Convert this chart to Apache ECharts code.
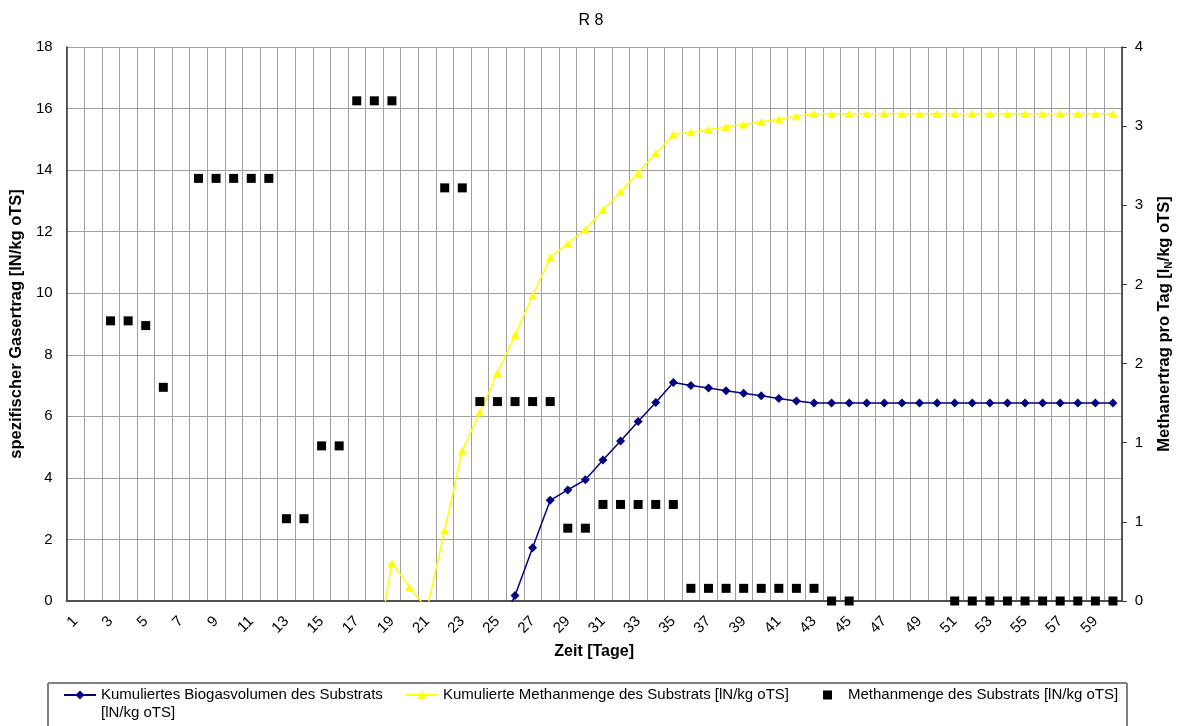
<!DOCTYPE html>
<html>
<head>
<meta charset="utf-8">
<script src="https://cdn.jsdelivr.net/npm/echarts@6/dist/echarts.min.js"></script>
<style>
html,body{margin:0;padding:0;background:#fff;}
#chart{width:1182px;height:726px;}
</style>
</head>
<body>
<div id="chart"></div>
<script>
// Categories: days
const days = ['1','2','3','4','5','6','7','8','9','10','11','12','13','14','15','16','17','18','19','20',
  '21','22','23','24','25','26','27','28','29','30','31','32','33','34','35','36','37','38','39','40',
  '41','42','43','44','45','46','47','48','49','50','51','52','53','54','55','56','57','58','59','60'];

// Kumuliertes Biogasvolumen des Substrats [lN/kg oTS] (left axis)
const biogasCum = [null,null,null,null,null,null,null,null,null,null,
  null,null,null,null,null,null,null,null,null,null,
  null,null,null,null,-1.0,0.18,1.73,3.27,3.61,3.94,
  4.58,5.20,5.83,6.45,7.10,7.00,6.92,6.83,6.75,6.67,
  6.58,6.50,6.43,6.43,6.43,6.43,6.43,6.43,6.43,6.43,
  6.43,6.43,6.43,6.43,6.43,6.43,6.43,6.43,6.43,6.43];

// Kumulierte Methanmenge des Substrats [lN/kg oTS] (left axis)
const methaneCum = [null,null,null,null,null,null,null,null,null,null,
  null,null,null,null,null,null,null,-2.1,1.23,0.45,
  -0.25,2.29,4.88,6.13,7.40,8.64,9.91,11.16,11.61,12.07,
  12.70,13.29,13.91,14.55,15.16,15.23,15.31,15.40,15.48,15.57,
  15.65,15.75,15.83,15.83,15.83,15.83,15.83,15.83,15.83,15.83,
  15.83,15.83,15.83,15.83,15.83,15.83,15.83,15.83,15.83,15.83];

// Methanmenge des Substrats pro Tag [lN/kg oTS] (right axis)
const methaneDaily = [null,null,1.77,1.77,1.74,1.35,null,2.67,2.67,2.67,
  2.67,2.67,0.52,0.52,0.98,0.98,3.16,3.16,3.16,null,
  null,2.61,2.61,1.26,1.26,1.26,1.26,1.26,0.46,0.46,
  0.61,0.61,0.61,0.61,0.61,0.08,0.08,0.08,0.08,0.08,
  0.08,0.08,0.08,0,0,null,null,null,null,null,
  0,0,0,0,0,0,0,0,0,0];

const seriesNames = [
  'Kumuliertes Biogasvolumen des Substrats [lN/kg oTS]',
  'Kumulierte Methanmenge des Substrats [lN/kg oTS]',
  'Methanmenge des Substrats [lN/kg oTS]'
];

const FONT = 'Liberation Sans, Arial, Helvetica, sans-serif';
const chart = echarts.init(document.getElementById('chart'), null, {renderer: 'canvas'});

chart.setOption({
  animation: false,
  backgroundColor: '#ffffff',
  textStyle: {fontFamily: FONT, color: '#000'},
  title: {
    text: 'R 8', left: 'center', top: 8,
    textStyle: {fontFamily: FONT, fontSize: 16, fontWeight: 'normal', color: '#000'}
  },
  grid: {left: 65, right: 54, top: 47, bottom: 125, containLabel: false},
  legend: [
    {
      data: [seriesNames[0]],
      left: 63, top: 668, padding: 0,
      itemWidth: 32, itemHeight: 11,
      formatter: function () { return '\nKumuliertes Biogasvolumen des Substrats\n[lN/kg oTS]'; },
      textStyle: {fontFamily: FONT, fontSize: 15, color: '#000', lineHeight: 18}
    },
    {
      data: [seriesNames[1]],
      left: 405, top: 686, padding: 0,
      itemWidth: 32, itemHeight: 11,
      textStyle: {fontFamily: FONT, fontSize: 15, color: '#000', lineHeight: 18}
    },
    {
      data: [{name: seriesNames[2], icon: 'rect'}],
      left: 823, top: 686, padding: 0,
      itemWidth: 9, itemHeight: 9,
      textStyle: {fontFamily: FONT, fontSize: 15, color: '#000', lineHeight: 18, padding: [0, 0, 0, 11]}
    }
  ],
  graphic: [
    {type: 'rect', z: -1, silent: true,
     shape: {x: 48, y: 683, width: 1079, height: 80},
     style: {fill: 'none', stroke: '#000', lineWidth: 1}},
    {type: 'line', z: 0, silent: true,
     shape: {x1: 48, y1: 683, x2: 1127, y2: 683},
     style: {stroke: '#808080', lineWidth: 2}}
  ],
  xAxis: {
    type: 'category',
    data: days,
    boundaryGap: true,
    name: 'Zeit [Tage]',
    nameLocation: 'middle',
    nameGap: 43,
    nameTextStyle: {fontFamily: FONT, fontSize: 16, fontWeight: 'bold', color: '#000'},
    axisLine: {show: true, lineStyle: {color: '#505050', width: 2}},
    axisTick: {show: false},
    axisLabel: {interval: 1, rotate: 45, margin: 18, fontSize: 15, color: '#000', fontFamily: FONT},
    splitLine: {show: true, interval: 0, lineStyle: {color: '#a0a0a0', width: 1}}
  },
  yAxis: [
    {
      type: 'value', min: 0, max: 18, interval: 2, position: 'left',
      name: 'spezifischer Gasertrag [lN/kg oTS]',
      nameLocation: 'middle', nameRotate: 90, nameGap: 38,
      nameTextStyle: {fontFamily: FONT, fontSize: 16.5, fontWeight: 'bold', color: '#000'},
      axisLine: {show: true, lineStyle: {color: '#303030', width: 1.5}},
      axisTick: {show: false},
      axisLabel: {margin: 14, fontSize: 15, color: '#000', fontFamily: FONT},
      splitLine: {show: true, lineStyle: {color: '#a0a0a0', width: 1}}
    },
    {
      type: 'value', min: 0, max: 3.5, interval: 0.5, position: 'right',
      name: 'Methanertrag pro Tag [l{sub|N}/kg oTS]',
      nameLocation: 'middle', nameRotate: 90, nameGap: 31,
      nameTextStyle: {
        fontFamily: FONT, fontSize: 16.5, fontWeight: 'bold', color: '#000', lineHeight: 20,
        rich: {sub: {fontFamily: FONT, fontSize: 10, fontWeight: 'bold', color: '#000', lineHeight: 20, verticalAlign: 'bottom'}}
      },
      axisLine: {show: true, lineStyle: {color: '#303030', width: 1.5}},
      axisTick: {show: true, inside: false, length: 5, lineStyle: {color: '#303030', width: 1}},
      axisLabel: {margin: 13, fontSize: 15, color: '#000', fontFamily: FONT,
        formatter: function (v) { return String(Math.round(v)); }},
      splitLine: {show: false}
    }
  ],
  series: [
    {
      name: seriesNames[0], type: 'line', yAxisIndex: 0, data: biogasCum,
      symbol: 'diamond', symbolSize: 9, showAllSymbol: true,
      lineStyle: {color: '#000080', width: 1.5},
      itemStyle: {color: '#000080', opacity: 1},
      connectNulls: false, z: 3
    },
    {
      name: seriesNames[1], type: 'line', yAxisIndex: 0, data: methaneCum,
      symbol: 'triangle', symbolSize: [9, 8], showAllSymbol: true,
      lineStyle: {color: '#ffff00', width: 1.5},
      itemStyle: {color: '#ffff00', opacity: 1},
      connectNulls: false, z: 3
    },
    {
      name: seriesNames[2], type: 'scatter', yAxisIndex: 1, data: methaneDaily,
      symbol: 'rect', symbolSize: 9, clip: false,
      itemStyle: {color: '#000000', opacity: 1}, z: 4
    }
  ]
});
</script>
</body>
</html>
